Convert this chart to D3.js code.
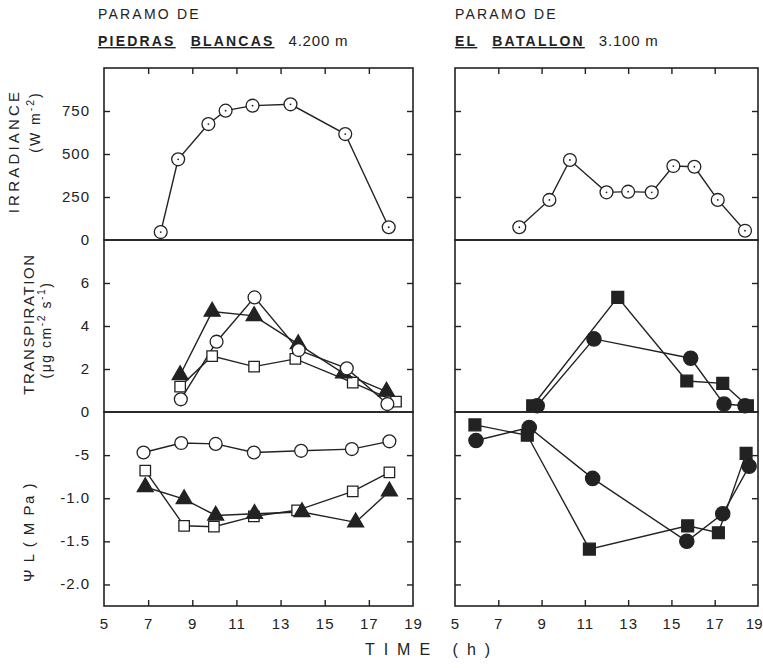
<!DOCTYPE html>
<html>
<head>
<meta charset="utf-8">
<script src="https://cdn.jsdelivr.net/npm/d3@7"></script>
<style>
  body { margin: 0; background: #fff; }
  svg text { font-family: "Liberation Sans", Arial, sans-serif; fill: #222; }
</style>
</head>
<body>
<svg width="763" height="668"></svg>
<script>
// hours on the x axis
var hourTicks = [5, 7, 9, 11, 13, 15, 17, 19];
var irrTicks = [0, 250, 500, 750];
var trTicks = [0, 2, 4, 6];
var psiTicks = [-0.5, -1, -1.5, -2];
var psiLabels = ["-5", "-1.0", "-1.5", "-2.0"];

// Paramo de Piedras Blancas
var pbIrrT = [7.57, 8.36, 9.73, 10.51, 11.73, 13.45, 15.93, 17.9];
var pbIrr = [46, 469, 674, 752, 781, 789, 616, 74];

var pbTrTriT = [8.45, 9.9, 11.8, 13.8, 15.85, 17.8];
var pbTrTri = [1.72, 4.67, 4.47, 3.16, 1.8, 0.95];
var pbTrCircT = [8.48, 10.1, 11.82, 13.82, 16.0, 17.84];
var pbTrCirc = [0.59, 3.27, 5.33, 2.88, 2.03, 0.37];
var pbTrSqT = [8.45, 9.9, 11.8, 13.67, 16.27, 18.23];
var pbTrSq = [1.18, 2.6, 2.11, 2.47, 1.37, 0.48];

var pbPsiCircT = [6.79, 8.5, 10.06, 11.79, 13.93, 16.23, 17.93];
var pbPsiCirc = [-0.47, -0.36, -0.37, -0.47, -0.45, -0.43, -0.34];
var pbPsiSqT = [6.87, 8.63, 9.98, 11.79, 13.75, 16.27, 17.93];
var pbPsiSq = [-0.68, -1.32, -1.33, -1.21, -1.14, -0.92, -0.70];
var pbPsiTriT = [6.87, 8.63, 10.06, 11.82, 13.97, 16.4, 17.93];
var pbPsiTri = [-0.87, -1.01, -1.2, -1.18, -1.16, -1.28, -0.92];

// Paramo de El Batallon
var ebIrrT = [7.97, 9.36, 10.31, 12.0, 13.0, 14.09, 15.09, 16.06, 17.14, 18.4];
var ebIrr = [74, 233, 465, 277, 281, 277, 430, 426, 233, 54];

var ebTrSqT = [8.59, 12.52, 15.71, 17.37, 18.51];
var ebTrSq = [0.29, 5.33, 1.44, 1.33, 0.29];
var ebTrCircT = [8.8, 11.42, 15.89, 17.43, 18.4];
var ebTrCirc = [0.29, 3.4, 2.5, 0.37, 0.29];

var ebPsiSqT = [5.92, 8.34, 11.21, 15.75, 17.17, 18.45];
var ebPsiSq = [-0.15, -0.27, -1.59, -1.32, -1.40, -0.48];
var ebPsiCircT = [5.97, 8.43, 11.36, 15.71, 17.37, 18.59];
var ebPsiCirc = [-0.33, -0.18, -0.77, -1.50, -1.18, -0.63];

var svg = d3.select("svg");
var ink = "#222";

var xL = d3.scaleLinear().domain([5, 19]).range([104, 413]);
var xR = d3.scaleLinear().domain([5, 19]).range([455, 758]);

var yIrr = d3.scaleLinear().domain([0, 1000]).range([240, 68]);
var yTr = d3.scaleLinear().domain([0, 8]).range([412, 240]);
var yPsi = d3.scaleLinear().domain([-2.25, 0]).range([606, 412]);

function zip(t, v) {
    return t.map(function (d, i) { return [d, v[i]]; });
}

// frames + ticks
function panel(x, labels) {
    var g = svg.append("g");
    var x0 = x.range()[0], x1 = x.range()[1];
    [[yIrr, irrTicks.slice(1)], [yTr, trTicks.slice(1)], [yPsi, psiTicks]].forEach(function (r) {
        var y = r[0];
        g.append("rect")
            .attr("x", x0).attr("y", y.range()[1])
            .attr("width", x1 - x0).attr("height", y.range()[0] - y.range()[1])
            .attr("fill", "none").attr("stroke", ink).attr("stroke-width", 1.6);
        var inL = g.append("g").attr("transform", "translate(" + x0 + ",0)")
            .call(d3.axisLeft(y).tickValues(r[1]).tickSize(-6).tickFormat(""));
        var inR = g.append("g").attr("transform", "translate(" + x1 + ",0)")
            .call(d3.axisRight(y).tickValues(r[1]).tickSize(-6).tickFormat(""));
        [inL, inR].forEach(function (a) { a.select(".domain").remove(); });
    });
    var inner = hourTicks.slice(1, -1);
    var top = g.append("g").attr("transform", "translate(0," + yIrr.range()[1] + ")")
        .call(d3.axisTop(x).tickValues(inner).tickSize(-6).tickFormat(""));
    top.select(".domain").remove();
    var bot = g.append("g").attr("transform", "translate(0," + yPsi.range()[0] + ")")
        .call(d3.axisBottom(x).tickValues(hourTicks).tickSize(-6).tickPadding(12));
    bot.select(".domain").remove();
    bot.selectAll(".tick").filter(function (d) { return d === 5 || d === 19; }).select("line").remove();
    bot.selectAll("text").attr("font-size", 15).attr("letter-spacing", 1);
    if (!labels) {
        // last label sits at the page edge
        bot.selectAll(".tick").filter(function (d) { return d === 19; }).select("text")
            .attr("text-anchor", "end").attr("x", 4).attr("letter-spacing", 0);
    }
    g.selectAll(".tick line").attr("stroke", ink).attr("stroke-width", 1.4);

    if (labels) {
        var la = g.append("g").attr("transform", "translate(" + (x0 - 14) + ",0)");
        la.selectAll("text.irr").data(irrTicks).enter().append("text")
            .attr("class", "irr")
            .attr("y", function (d) { return yIrr(d) + 5; })
            .text(function (d) { return d; });
        la.selectAll("text.tr").data(trTicks).enter().append("text")
            .attr("class", "tr")
            .attr("y", function (d) { return yTr(d) + 5; })
            .text(function (d) { return d; });
        la.selectAll("text.psi").data(psiTicks).enter().append("text")
            .attr("class", "psi")
            .attr("y", function (d) { return yPsi(d) + 5; })
            .text(function (d, i) { return psiLabels[i]; });
        la.selectAll("text").attr("text-anchor", "end").attr("font-size", 15).attr("letter-spacing", 1);
    }
}
panel(xL, true);
panel(xR, false);

var line = function (x, y) {
    return d3.line().x(function (d) { return x(d[0]); }).y(function (d) { return y(d[1]); });
};

function series(x, y, pts, shape, filled, size) {
    svg.append("path")
        .datum(pts)
        .attr("d", line(x, y))
        .attr("fill", "none").attr("stroke", ink).attr("stroke-width", 1.4);
    return { x: x, y: y, pts: pts, shape: shape, filled: filled, size: size };
}

function markers(s) {
    var sym = d3.symbol().type(s.shape).size(s.size);
    var m = svg.append("g").selectAll("path").data(s.pts).enter().append("path")
        .attr("transform", function (d) { return "translate(" + s.x(d[0]) + "," + s.y(d[1]) + ")"; })
        .attr("d", sym)
        .attr("fill", s.filled ? ink : "#fff")
        .attr("stroke", ink).attr("stroke-width", 1.3);
    return m;
}

var all = [];
// irradiance with dotted circles
all.push(series(xL, yIrr, zip(pbIrrT, pbIrr), d3.symbolCircle, false, 130));
all.push(series(xR, yIrr, zip(ebIrrT, ebIrr), d3.symbolCircle, false, 130));

// transpiration
all.push(series(xL, yTr, zip(pbTrSqT, pbTrSq), d3.symbolSquare, false, 110));
all.push(series(xL, yTr, zip(pbTrTriT, pbTrTri), d3.symbolTriangle, true, 110));
all.push(series(xL, yTr, zip(pbTrCircT, pbTrCirc), d3.symbolCircle, false, 130));
all.push(series(xR, yTr, zip(ebTrSqT, ebTrSq), d3.symbolSquare, true, 140));
all.push(series(xR, yTr, zip(ebTrCircT, ebTrCirc), d3.symbolCircle, true, 160));

// leaf water potential
all.push(series(xL, yPsi, zip(pbPsiCircT, pbPsiCirc), d3.symbolCircle, false, 130));
all.push(series(xL, yPsi, zip(pbPsiSqT, pbPsiSq), d3.symbolSquare, false, 110));
all.push(series(xL, yPsi, zip(pbPsiTriT, pbPsiTri), d3.symbolTriangle, true, 110));
all.push(series(xR, yPsi, zip(ebPsiSqT, ebPsiSq), d3.symbolSquare, true, 140));
all.push(series(xR, yPsi, zip(ebPsiCircT, ebPsiCirc), d3.symbolCircle, true, 160));

all.forEach(markers);

// centre dots of the irradiance circles
[[xL, pbIrrT, pbIrr], [xR, ebIrrT, ebIrr]].forEach(function (s) {
    svg.append("g").selectAll("circle").data(zip(s[1], s[2])).enter().append("circle")
        .attr("cx", function (d) { return s[0](d[0]); })
        .attr("cy", function (d) { return yIrr(d[1]); })
        .attr("r", 0.9).attr("fill", ink);
});

// titles
function title(x, words, alt) {
    svg.append("text").attr("x", x).attr("y", 19)
        .attr("font-size", 14).attr("letter-spacing", 2.2).text("PARAMO DE");
    var t = svg.append("text").attr("x", x).attr("y", 46).attr("font-size", 14).attr("letter-spacing", 2.2);
    words.forEach(function (w, i) {
        t.append("tspan").attr("font-weight", "bold").attr("text-decoration", "underline")
            .attr("dx", i ? 15 : 0).text(w);
    });
    t.append("tspan").attr("dx", 14).attr("font-size", 15).attr("letter-spacing", 0.8).text(alt);
}
title(98, ["PIEDRAS", "BLANCAS"], "4.200 m");
title(455, ["EL", "BATALLON"], "3.100 m");

// y axis titles
function vlabel(x, y, parts, size, ls) {
    var t = svg.append("text")
        .attr("transform", "translate(" + x + "," + y + ") rotate(-90)")
        .attr("text-anchor", "middle")
        .attr("font-size", size).attr("letter-spacing", ls);
    parts.forEach(function (p) {
        var s = t.append("tspan").text(p[0]);
        if (p[1]) s.attr("baseline-shift", "super").attr("font-size", size * 0.75);
    });
}
vlabel(19, 151, [["IRRADIANCE"]], 15, 3.2);
vlabel(40, 122, [["(W m"], ["-2", 1], [")"]], 14, 2);
vlabel(34, 324, [["TRANSPIRATION"]], 15, 1.6);
vlabel(51, 330, [["(μg  cm"], ["-2", 1], ["  s"], ["-1", 1], [")"]], 14, 1.5);
vlabel(34, 532, [["Ψ L ( M Pa )"]], 15, 1.5);

svg.append("text").attr("x", 432).attr("y", 655)
    .attr("text-anchor", "middle").attr("font-size", 16).attr("letter-spacing", 9)
    .text("TIME  (h)");
</script>
</body>
</html>
